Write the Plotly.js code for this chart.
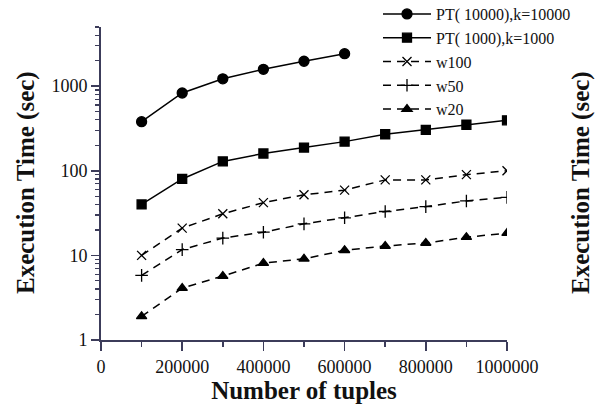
<!DOCTYPE html>
<html>
<head>
<meta charset="utf-8">
<script src="https://cdn.plot.ly/plotly-3.0.1.min.js"></script>
<style>html,body{margin:0;padding:0;background:#fff;}#chart{width:598px;height:408px;}</style>
</head>
<body>
<div id="chart"></div>
<script>
// Data
const tuples = [100000, 200000, 300000, 400000, 500000, 600000, 700000, 800000, 900000, 1000000];
const pt10000Tuples = [100000, 200000, 300000, 400000, 500000, 600000];
const pt10000 = [380, 830, 1220, 1580, 1970, 2420];
const pt1000 = [40, 80, 129, 160, 188, 221, 270, 305, 350, 395];
const w100 = [10, 21, 31, 42, 52, 59, 78, 78, 90, 100];
const w50 = [5.8, 11.7, 16, 18.8, 23.6, 27.8, 33, 37.7, 44, 48.5];
const w20 = [1.9, 4.1, 5.7, 8.1, 9.1, 11.5, 12.9, 14, 16.4, 18.3];
const seriesNames = ["PT( 10000),k=10000", "PT( 1000),k=1000", "w100", "w50", "w20"];
const yTickVals = [1, 10, 100, 1000];
const yTickText = ["1", "10", "100", "1000"];
const xTickVals = [0, 200000, 400000, 600000, 800000, 1000000];
const xTickText = ["0", "200000", "400000", "600000", "800000", "1000000"];

const serif = "Liberation Serif, Times New Roman, serif";
const ink = "#111";
const axisCol = "#3c3c5a";

function tr(x, y, name, symbol, dash, size) {
  return {
    x: x, y: y, name: name, type: "scatter", mode: "lines+markers",
    line: {color: "#000", width: 1.5, dash: dash},
    marker: {symbol: symbol, size: size, color: "#000", line: {color: "#000", width: 1.3}}
  };
}

const data = [
  tr(pt10000Tuples, pt10000, seriesNames[0], "circle", "solid", 10),
  tr(tuples, pt1000, seriesNames[1], "square", "solid", 9),
  tr(tuples, w100, seriesNames[2], "x-thin-open", "8px,6px", 9),
  tr(tuples, w50, seriesNames[3], "cross-thin-open", "8px,6px", 9),
  tr(tuples, w20, seriesNames[4], "triangle-up", "8px,6px", 9)
];

const layout = {
  width: 598, height: 408,
  margin: {l: 101, r: 91, t: 27, b: 68, autoexpand: false},
  paper_bgcolor: "#fff", plot_bgcolor: "#fff",
  font: {family: serif, size: 18, color: ink},
  showlegend: true,
  legend: {
    x: (378 - 101) / 406, xanchor: "left", y: (340 + 3) / 313, yanchor: "top",
    bgcolor: "rgba(0,0,0,0)", borderwidth: 0,
    font: {family: serif, size: 16, color: ink},
    itemwidth: 48
  },
  xaxis: {
    type: "linear", range: [0, 1000000],
    tickvals: xTickVals, ticktext: xTickText,
    ticks: "outside", ticklen: 9, tickwidth: 1.5, tickcolor: axisCol,
    minor: {dtick: 100000, tick0: 0, ticks: "outside", ticklen: 5, tickwidth: 1.5, tickcolor: axisCol, showgrid: false},
    showline: true, linecolor: axisCol, linewidth: 2,
    showgrid: false, zeroline: false,
    tickfont: {family: serif, size: 18, color: ink},
    title: {text: "<b>Number of tuples</b>", font: {family: serif, size: 25, color: ink}, standoff: 6}
  },
  yaxis: {
    type: "log", range: [0, Math.log10(5000)],
    tickvals: yTickVals, ticktext: yTickText,
    ticks: "outside", ticklen: 8, tickwidth: 1.5, tickcolor: axisCol,
    minor: {dtick: "D1", ticks: "outside", ticklen: 4, tickwidth: 1.2, tickcolor: axisCol, showgrid: false},
    showline: true, linecolor: axisCol, linewidth: 2,
    showgrid: false, zeroline: false,
    tickfont: {family: serif, size: 18, color: ink},
    title: {text: ""}
  },
  annotations: [
    {text: "<b>Execution Time (sec)</b>", xref: "paper", yref: "paper",
     x: (26 - 101) / 406, y: (340 - 183) / 313, xanchor: "center", yanchor: "middle",
     textangle: -90, showarrow: false, font: {family: serif, size: 25, color: ink}},
    {text: "<b>Execution Time (sec)</b>", xref: "paper", yref: "paper",
     x: (581 - 101) / 406, y: (340 - 183) / 313, xanchor: "center", yanchor: "middle",
     textangle: -90, showarrow: false, font: {family: serif, size: 25, color: ink}}
  ]
};

Plotly.newPlot("chart", data, layout, {displayModeBar: false, staticPlot: true});
</script>
</body>
</html>
